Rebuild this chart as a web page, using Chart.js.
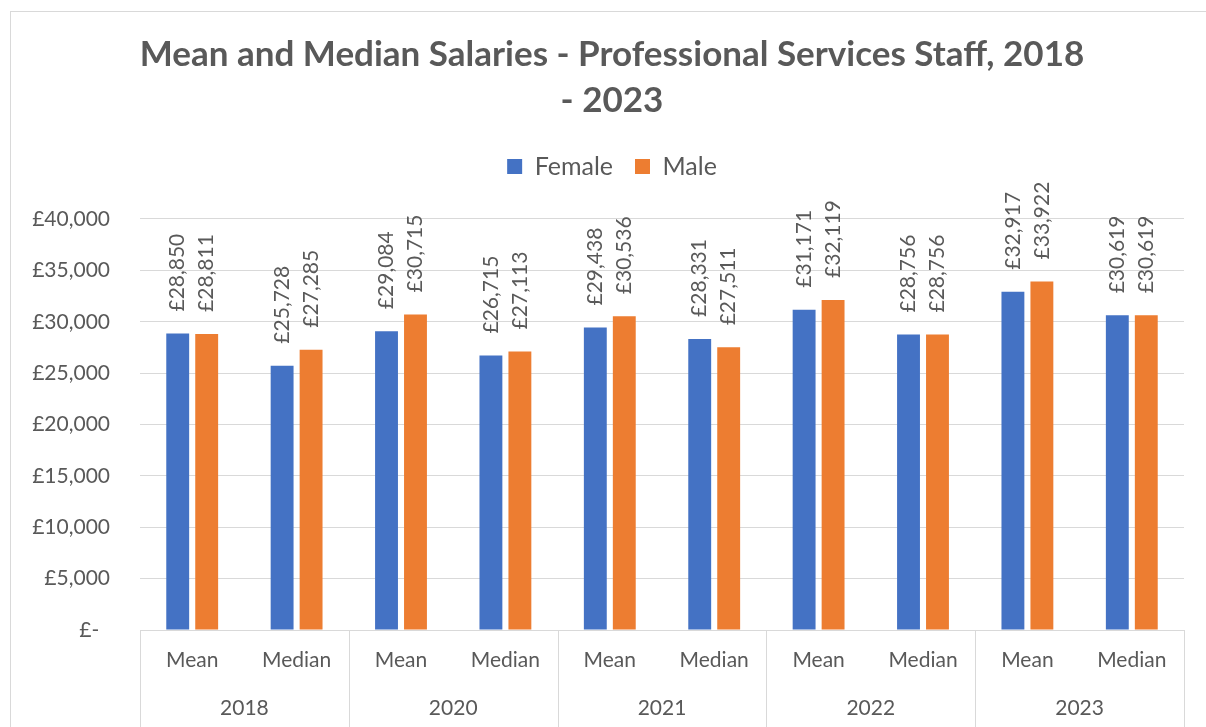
<!DOCTYPE html>
<html>
<head>
<meta charset="utf-8">
<script src="https://cdn.jsdelivr.net/npm/chart.js@4/dist/chart.umd.min.js"></script>
<style>
  html, body { margin: 0; padding: 0; background: #ffffff; overflow: hidden; width: 1206px; height: 727px; }
  #frame { position: absolute; left: 10px; top: 11px; width: 1300px; height: 800px;
           border-top: 1px solid #d9d9d9; border-left: 1px solid #d9d9d9; }
  #wrap { position: absolute; left: 11px; top: 12px; width: 1202px; height: 716px; }
</style>
</head>
<body>
<div id="frame"></div>
<div id="wrap"><canvas id="c" width="1202" height="716"></canvas></div>
<script>
// ---- data ----
const years = ['2018', '2020', '2021', '2022', '2023'];
const measures = ['Mean', 'Median'];
const categories = ['Mean', 'Median', 'Mean', 'Median', 'Mean', 'Median', 'Mean', 'Median', 'Mean', 'Median'];
const female = [28850, 25728, 29084, 26715, 29438, 28331, 31171, 28756, 32917, 30619];
const male   = [28811, 27285, 30715, 27113, 30536, 27511, 32119, 28756, 33922, 30619];
const yTicks = [0, 5000, 10000, 15000, 20000, 25000, 30000, 35000, 40000];
const titleLines = ['Mean and Median Salaries - Professional Services Staff, 2018', '- 2023'];
const seriesNames = ['Female', 'Male'];

const FONT = 'Lato, "Open Sans", sans-serif';
const TEXT = '#595959';
const GRID = '#d9d9d9';

function gbp(v) {
  if (v === 0) return '£-  ';
  return '£' + v.toLocaleString('en-GB');
}

const dataLabels = {
  id: 'dataLabels',
  afterDatasetsDraw(chart) {
    const ctx = chart.ctx;
    ctx.save();
    ctx.font = '21px ' + FONT;
    ctx.fillStyle = TEXT;
    ctx.textAlign = 'left';
    ctx.textBaseline = 'middle';
    chart.data.datasets.forEach((ds, di) => {
      const meta = chart.getDatasetMeta(di);
      meta.data.forEach((el, i) => {
        ctx.save();
        ctx.translate(el.x, el.y - 22);
        ctx.rotate(-Math.PI / 2);
        ctx.fillText(gbp(ds.data[i]), 0, 0);
        ctx.restore();
      });
    });
    ctx.restore();
  }
};

const groupLines = {
  id: 'groupLines',
  afterDraw(chart) {
    const xs = chart.scales.x;
    const ctx = chart.ctx;
    const n = categories.length;
    const step = (xs.right - xs.left) / n;
    ctx.save();
    ctx.strokeStyle = GRID;
    ctx.lineWidth = 1;
    for (let g = 0; g <= years.length; g++) {
      const px = Math.round(xs.left + g * 2 * step) + 0.5;
      ctx.beginPath();
      ctx.moveTo(px, chart.chartArea.bottom);
      ctx.lineTo(px, chart.height);
      ctx.stroke();
    }
    ctx.restore();
  }
};

new Chart(document.getElementById('c'), {
  type: 'bar',
  data: {
    labels: categories,
    datasets: [
      { label: seriesNames[0], data: female, backgroundColor: '#4472C4', categoryPercentage: 0.555, barPercentage: 0.79 },
      { label: seriesNames[1], data: male, backgroundColor: '#ED7D31', categoryPercentage: 0.555, barPercentage: 0.79 }
    ]
  },
  options: {
    responsive: false,
    animation: false,
    layout: { padding: { left: 15, right: 15, top: 20, bottom: 0 } },
    plugins: {
      title: {
        display: true,
        text: titleLines,
        color: TEXT,
        font: { family: FONT, size: 35, weight: 'bold', lineHeight: 1.314 },
        padding: { top: 0, bottom: 8 }
      },
      legend: {
        display: true,
        position: 'top',
        labels: {
          color: TEXT,
          font: { family: FONT, size: 25 },
          boxWidth: 15,
          boxHeight: 15,
          padding: 22
        }
      },
      tooltip: { enabled: false }
    },
    scales: {
      x: {
        position: 'bottom',
        grid: { display: false },
        border: { display: true, color: GRID, width: 1 },
        ticks: { color: TEXT, font: { family: FONT, size: 21 }, padding: 10, maxRotation: 0, autoSkip: false },
        afterFit(scale) { scale.height = 50; }
      },
      x2: {
        position: 'bottom',
        type: 'category',
        labels: years,
        offset: true,
        grid: { display: false },
        border: { display: false },
        ticks: { color: TEXT, font: { family: FONT, size: 21 }, padding: 8, maxRotation: 0, autoSkip: false },
        afterFit(scale) { scale.height = 48; }
      },
      xTop: {
        position: 'top',
        type: 'category',
        labels: years,
        grid: { display: false },
        border: { display: false },
        ticks: { display: false },
        afterFit(scale) { scale.height = 30; }
      },
      y: {
        min: 0,
        max: 40000,
        afterBuildTicks(scale) { scale.ticks = yTicks.map(v => ({ value: v })); },
        grid: { color: GRID, lineWidth: 1, drawTicks: false },
        border: { display: false },
        ticks: { color: TEXT, font: { family: FONT, size: 21 }, padding: 30, callback: (v) => gbp(v) },
        afterFit(scale) { scale.width = 114; }
      },
      yRight: {
        position: 'right',
        type: 'linear',
        grid: { display: false },
        border: { display: false },
        ticks: { display: false },
        afterFit(scale) { scale.width = 14; }
      }
    }
  },
  plugins: [dataLabels, groupLines]
});
</script>
</body>
</html>
